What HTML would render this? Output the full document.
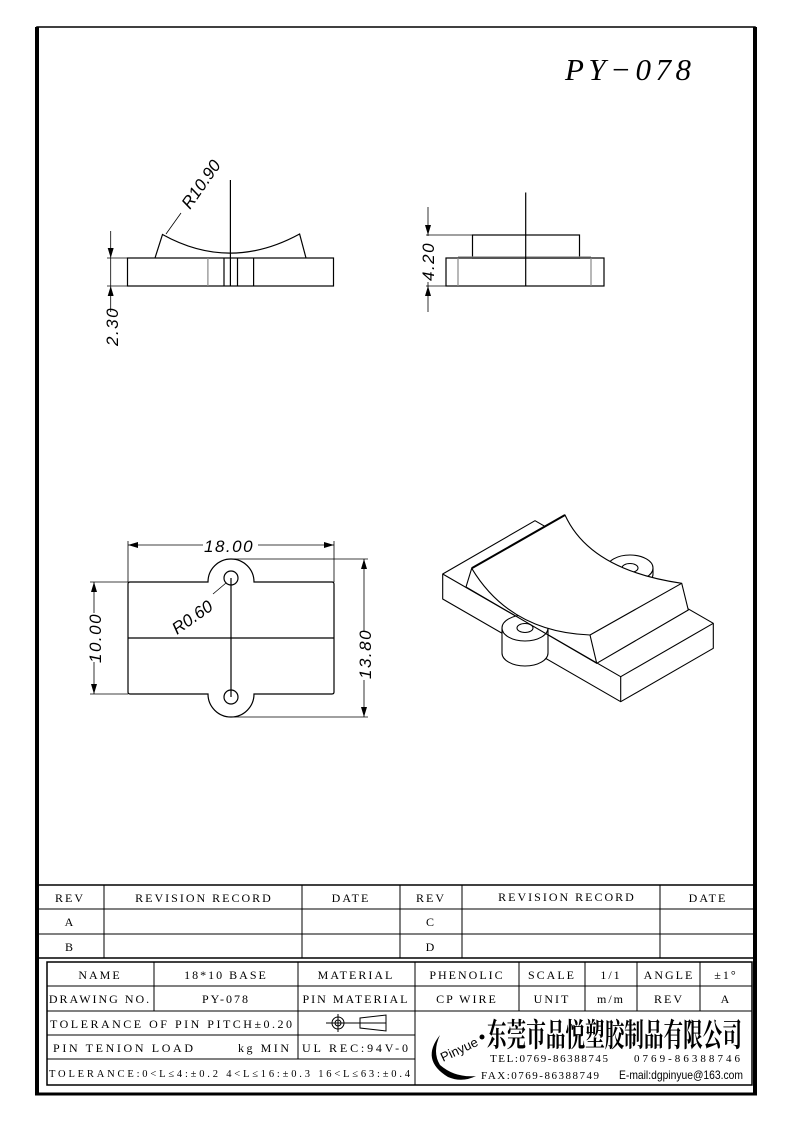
<!DOCTYPE html>
<html><head><meta charset="utf-8"><style>
html,body{margin:0;padding:0;background:#fff}
svg{display:block}
.t{font-family:"Liberation Serif",serif;font-size:12px;fill:#000;letter-spacing:2px}
.d{font-family:"Liberation Sans",sans-serif;font-style:italic;font-size:17px;fill:#000}
</style></head><body>
<svg width="793" height="1123" viewBox="0 0 793 1123" xmlns="http://www.w3.org/2000/svg">
<defs><marker id="a" viewBox="0 0 10 6" refX="10" refY="3" markerWidth="10" markerHeight="6" orient="auto-start-reverse" markerUnits="userSpaceOnUse"><path d="M0,0L10,3L0,6z" fill="#000"/></marker></defs>
<g fill="none" stroke="#000">
<rect x="37" y="27" width="718" height="1067" stroke-width="1.5"/>
<line x1="37" y1="27" x2="37" y2="1095" stroke-width="4"/>
<line x1="755" y1="27" x2="755" y2="1095" stroke-width="4"/>
<line x1="35" y1="1094" x2="757" y2="1094" stroke-width="3"/>
</g>
<text x="565" y="80" font-family="'Liberation Serif',serif" font-style="italic" font-size="31" textLength="126" lengthAdjust="spacing">PY−078</text>

<!-- front view -->
<g fill="none" stroke="#000" stroke-width="1.2">
<rect x="127.5" y="258" width="206" height="28"/>
<path d="M155,258 L162.5,234.5 Q230,272 299.6,234 L306,258"/>
<line x1="230.4" y1="180" x2="230.4" y2="286"/>
<line x1="224" y1="258" x2="224" y2="286"/>
<line x1="237.5" y1="258" x2="237.5" y2="286"/>
<line x1="253.6" y1="258" x2="253.6" y2="286"/>
<line x1="207.9" y1="258" x2="207.9" y2="286" stroke="#888"/>
<line x1="107" y1="258" x2="127" y2="258" stroke-width="0.8"/>
<line x1="107" y1="286" x2="127" y2="286" stroke-width="0.8"/>
<line x1="110.7" y1="231" x2="110.7" y2="258" stroke-width="0.8" marker-end="url(#a)"/>
<line x1="110.7" y1="312" x2="110.7" y2="286" stroke-width="0.8" marker-end="url(#a)"/>
<line x1="110.7" y1="258" x2="110.7" y2="286" stroke-width="0.8"/>
<line x1="166" y1="234" x2="181" y2="213" stroke-width="0.8"/>
</g>
<text class="d" transform="translate(118,346) rotate(-90)" letter-spacing="1.5">2.30</text>
<text class="d" transform="translate(190,210) rotate(-55)">R10.90</text>

<!-- side view -->
<g fill="none" stroke="#000" stroke-width="1.2">
<rect x="446" y="258" width="158" height="28"/>
<rect x="472.5" y="235" width="107" height="23"/>
<line x1="458" y1="257" x2="591" y2="257" stroke="#888"/>
<line x1="458" y1="258" x2="458" y2="286" stroke="#888"/>
<line x1="591" y1="258" x2="591" y2="286" stroke="#888"/>
<line x1="525.7" y1="192.5" x2="525.7" y2="286"/>
<line x1="426" y1="235" x2="472" y2="235" stroke-width="0.8"/>
<line x1="426" y1="286" x2="446" y2="286" stroke-width="0.8"/>
<line x1="428" y1="207" x2="428" y2="235" stroke-width="0.8" marker-end="url(#a)"/>
<line x1="428" y1="312" x2="428" y2="286" stroke-width="0.8" marker-end="url(#a)"/>
<line x1="428" y1="235" x2="428" y2="286" stroke-width="0.8"/>
</g>
<rect x="420" y="236" width="16" height="46" fill="#fff"/>
<text class="d" transform="translate(434,281) rotate(-90)" letter-spacing="1.5">4.20</text>

<!-- top view -->
<g fill="none" stroke="#000" stroke-width="1.2">
<path d="M130,582 L208,582 A23,23 0 1 1 254,582 L332,582 Q334,582 334,584 L334,692 Q334,694 332,694 L254,694 A23,23 0 1 1 208,694 L130,694 Q128,694 128,692 L128,584 Q128,582 130,582 Z"/>
<circle cx="231" cy="578" r="7"/>
<circle cx="231" cy="697" r="7"/>
<line x1="128" y1="638" x2="334" y2="638"/>
<line x1="231" y1="578" x2="231" y2="697"/>
<g stroke-width="0.8">
<line x1="128" y1="541" x2="128" y2="582"/>
<line x1="334" y1="541" x2="334" y2="582"/>
<line x1="128" y1="545" x2="203" y2="545" marker-start="url(#a)"/>
<line x1="258" y1="545" x2="334" y2="545" marker-end="url(#a)"/>
<line x1="90" y1="582" x2="128" y2="582"/>
<line x1="90" y1="694" x2="128" y2="694"/>
<line x1="94" y1="582" x2="94" y2="613" marker-start="url(#a)"/>
<line x1="94" y1="662" x2="94" y2="694" marker-end="url(#a)"/>
<line x1="231" y1="559" x2="368" y2="559"/>
<line x1="231" y1="717" x2="368" y2="717"/>
<line x1="364" y1="559" x2="364" y2="632" marker-start="url(#a)"/>
<line x1="364" y1="680" x2="364" y2="717" marker-end="url(#a)"/>
<line x1="226" y1="583" x2="213" y2="594"/>
</g>
</g>
<text class="d" x="204" y="552" letter-spacing="1.5">18.00</text>
<text class="d" transform="translate(101,663) rotate(-90)" letter-spacing="1.5">10.00</text>
<text class="d" transform="translate(371,679) rotate(-90)" letter-spacing="1.5">13.80</text>
<text class="d" transform="translate(177,635) rotate(-35)" font-size="16">R0.60</text>

<!-- iso view -->
<g fill="#fff" stroke="#000" stroke-width="1.1" stroke-linejoin="round">
<path d="M442.7,574 L535,520.7 L713.3,623.3 L713.3,648.3 L620.7,701.7 L442.7,599 Z"/>
<path d="M442.7,574 L620.7,676.7 L713.3,623.3" fill="none"/>
<line x1="620.7" y1="676.7" x2="620.7" y2="701.7"/>
<path d="M607,568 L607,574 A23,13 0 0 0 653,574 L653,568 Z"/>
<ellipse cx="630" cy="568" rx="23" ry="13"/>
<ellipse cx="630" cy="568" rx="8" ry="4.5"/>
<path d="M502,628 L502,653 A23,13 0 0 0 548,653 L548,628 Z"/>
<ellipse cx="525" cy="628" rx="23" ry="13"/>
<ellipse cx="525" cy="628" rx="8" ry="4.5"/>
<path d="M466,587 L471.7,568.3 L565,515 Q590,570 681.7,583.3 L688.3,610 L596.7,663.3 L590,635 Q510,632 471.7,568.3 Z"/>
<line x1="590" y1="635" x2="681.7" y2="583.3"/>
<line x1="471.7" y1="568.3" x2="565" y2="515" stroke-width="2"/>
<path d="M466,587 L596.7,663.3" fill="none"/>
</g>

<!-- revision table -->
<g fill="none" stroke="#000" stroke-width="1">
<line x1="37" y1="885" x2="755" y2="885" stroke-width="1.5"/>
<line x1="37" y1="909" x2="755" y2="909"/>
<line x1="37" y1="934" x2="755" y2="934"/>
<line x1="37" y1="958" x2="755" y2="958" stroke-width="1.5"/>
<line x1="104" y1="885" x2="104" y2="958"/>
<line x1="302" y1="885" x2="302" y2="958"/>
<line x1="400" y1="885" x2="400" y2="958"/>
<line x1="462" y1="885" x2="462" y2="958"/>
<line x1="660" y1="885" x2="660" y2="958"/>
<rect x="47" y="962" width="705" height="123" stroke-width="1.5"/>
<line x1="47" y1="986" x2="752" y2="986"/>
<line x1="47" y1="1011" x2="752" y2="1011"/>
<line x1="47" y1="1035" x2="415" y2="1035"/>
<line x1="47" y1="1059" x2="415" y2="1059"/>
<line x1="154" y1="962" x2="154" y2="1011"/>
<line x1="298" y1="962" x2="298" y2="1059"/>
<line x1="415" y1="962" x2="415" y2="1085"/>
<line x1="519" y1="962" x2="519" y2="1011"/>
<line x1="585" y1="962" x2="585" y2="1011"/>
<line x1="637" y1="962" x2="637" y2="1011"/>
<line x1="700" y1="962" x2="700" y2="1011"/>
<circle cx="338" cy="1023" r="6"/><circle cx="338" cy="1023" r="3"/>
<line x1="326" y1="1023" x2="386" y2="1023"/><line x1="338" y1="1014" x2="338" y2="1032"/>
<path d="M360,1018 L386,1015 L386,1031 L360,1028 Z"/>
</g>
<g class="t" text-anchor="middle">
<text x="70" y="902">REV</text><text x="204" y="902">REVISION RECORD</text><text x="351" y="902">DATE</text>
<text x="431" y="902">REV</text><text x="567" y="901">REVISION RECORD</text><text x="708" y="902">DATE</text>
<text x="70" y="926">A</text><text x="431" y="926">C</text>
<text x="70" y="951">B</text><text x="431" y="951">D</text>
<text x="100" y="979">NAME</text><text x="226" y="979">18*10 BASE</text><text x="356" y="979">MATERIAL</text>
<text x="467" y="979">PHENOLIC</text><text x="552" y="979">SCALE</text><text x="611" y="979">1/1</text>
<text x="669" y="979">ANGLE</text><text x="726" y="979">±1°</text>
<text x="100" y="1003">DRAWING NO.</text><text x="226" y="1003">PY-078</text><text x="356" y="1003">PIN MATERIAL</text>
<text x="467" y="1003">CP WIRE</text><text x="552" y="1003">UNIT</text><text x="611" y="1003">m/m</text>
<text x="669" y="1003">REV</text><text x="726" y="1003">A</text>
</g>
<g class="t">
<text x="50" y="1028" textLength="244" lengthAdjust="spacing">TOLERANCE OF PIN PITCH±0.20</text>
<text x="53" y="1052" textLength="142" lengthAdjust="spacing">PIN TENION LOAD</text>
<text x="238" y="1052" textLength="53" lengthAdjust="spacing">kg MIN</text>
<text x="302" y="1052" textLength="108" lengthAdjust="spacing">UL REC:94V-0</text>
<text x="49" y="1077" font-size="10.5" letter-spacing="1" textLength="362" lengthAdjust="spacing">TOLERANCE:0&lt;L≤4:±0.2  4&lt;L≤16:±0.3  16&lt;L≤63:±0.4</text>
<text x="490" y="1062" font-size="11" textLength="120" lengthAdjust="spacing">TEL:0769-86388745</text>
<text x="634" y="1062" font-size="11" textLength="108" lengthAdjust="spacing">0769-86388746</text>
<text x="481" y="1079" font-size="11" textLength="120" lengthAdjust="spacing">FAX:0769-86388749</text>
</g>
<text x="619" y="1079" font-family="Liberation Sans,sans-serif" font-size="12" textLength="124" lengthAdjust="spacingAndGlyphs">E-mail:dgpinyue@163.com</text>
<text x="487" y="1046" font-family="'Liberation Serif','Noto Serif CJK SC',serif" font-size="32" font-weight="bold" textLength="255" lengthAdjust="spacingAndGlyphs">东莞市品悦塑胶制品有限公司</text>
<path d="M440,1035 Q420,1060 448,1077 Q462,1083 476,1076 Q455,1078 440,1065 Q432,1052 440,1035 Z" fill="#000"/>
<circle cx="482" cy="1037" r="2.5" fill="#000"/>
<text transform="translate(443,1062) rotate(-25)" font-family="Liberation Sans,sans-serif" font-size="13">Pinyue</text>
</svg>
</body></html>
